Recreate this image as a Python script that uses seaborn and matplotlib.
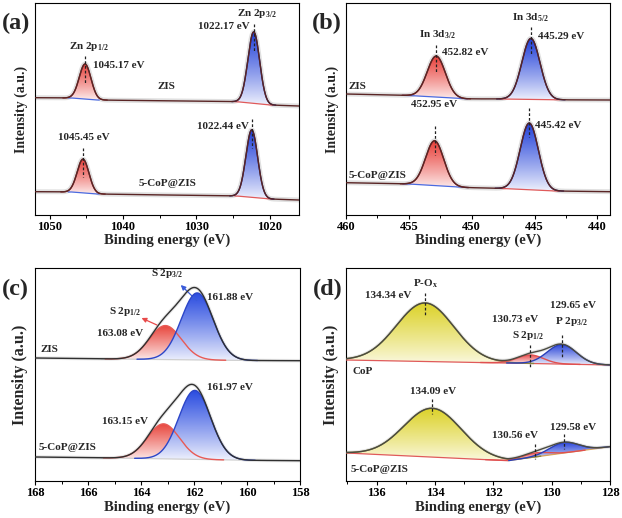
import numpy as np
import pandas as pd
import matplotlib
matplotlib.use("Agg")
import matplotlib.pyplot as plt
import seaborn as sns
from matplotlib.colors import LinearSegmentedColormap
from matplotlib.patches import Polygon
from matplotlib.ticker import MultipleLocator, FixedLocator

# ---------------- data ----------------
# Panel (a): Zn 2p
a_xlim = (1052, 1016)
a_ticks = [1050, 1040, 1030, 1020]
a_zis_bx = [1052, 1047, 1043.5, 1024.5, 1020, 1016]
a_zis_by = [117.3, 117.0, 115.0, 113.3, 110.0, 109.0]
a_zis_centers = [1045.17, 1022.17]
a_zis_heights = [35.0, 71.5]
a_cop_bx = [1052, 1047, 1043.5, 1024.5, 1020, 1016]
a_cop_by = [23.3, 23.0, 21.0, 19.0, 16.0, 15.0]
a_cop_centers = [1045.45, 1022.44]
a_cop_heights = [33.7, 67.5]
a_sigmas = [0.8, 0.8]

# Panel (b): In 3d
b_xlim = (460, 439)
b_ticks = [460, 455, 450, 445, 440]
b_zis_bx = [460, 455, 450.5, 447.5, 443.5, 439]
b_zis_by = [121.0, 119.5, 116.2, 116.0, 115.2, 115.0]
b_zis_centers = [452.82, 445.29]
b_zis_heights = [41.0, 61.0]
b_cop_bx = [460, 455, 450.5, 447.5, 443.5, 439]
b_cop_by = [32.3, 31.0, 27.5, 26.5, 24.0, 23.3]
b_cop_centers = [452.95, 445.42]
b_cop_heights = [44.8, 66.7]
b_sigmas = [0.72, 0.72]

# Panel (c): S 2p
c_xlim = (168, 158)
c_ticks = [168, 166, 164, 162, 160, 158]
c_zis_bx = [168, 165, 160, 158]
c_zis_by = [123.0, 122.0, 120.5, 120.3]
c_zis_centers = [163.08, 161.88]
c_zis_heights = [34.0, 67.0]
c_cop_bx = [168, 165, 160, 158]
c_cop_by = [24.0, 23.0, 20.7, 20.3]
c_cop_centers = [163.15, 161.97]
c_cop_heights = [35.0, 69.0]
c_sigmas = [0.6, 0.6]

# Panel (d): P 2p
d_xlim = (137.05, 128)
d_ticks = [136, 134, 132, 130, 128]
d_cop_bx = [137.05, 131.5, 128]
d_cop_by = [121.0, 118.0, 116.0]
d_cop_centers = [134.34, 130.73, 129.65]
d_cop_heights = [58.5, 8.5, 19.5]
d_zis_bx = [137.05, 131.5, 128]
d_zis_by = [28.0, 20.3, 34.3]
d_zis_centers = [134.09, 130.56, 129.58]
d_zis_heights = [48.8, 4.0, 10.5]
d_sigmas = [0.98, 0.45, 0.5]

# ---------------- style ----------------
sns.set_theme(style="ticks")
plt.rcParams["font.family"] = ["Liberation Serif", "DejaVu Serif"]
plt.rcParams["font.weight"] = "bold"
plt.rcParams["mathtext.fontset"] = "custom"
plt.rcParams["mathtext.rm"] = "Liberation Serif:bold"
plt.rcParams["mathtext.it"] = "Liberation Serif:bold"
plt.rcParams["mathtext.bf"] = "Liberation Serif:bold"
plt.rcParams["mathtext.default"] = "rm"

RED_F, RED_E, RED_L = "#e8403a", "#8c2b2b", "#fdeeee"
BLUE_F, BLUE_E, BLUE_L = "#1f3ed8", "#1b1f6e", "#f0f2fd"
ENV_AB = "#5a2525"


def gauss(x, c, h, s):
    return h * np.exp(-0.5 * ((x - c) / s) ** 2)


def draw_spectrum(ax, xlim, bx, by, centers, heights, sigmas, fills, edges,
                  env_color, base_segs, halo=(3.5, "#e0e0e0"), fill_low=None,
                  dash=None):
    xgrid = np.linspace(xlim[0], xlim[1], 900)
    base = np.interp(xgrid, bx[::-1], by[::-1])
    comps = [gauss(xgrid, c, h, s) for c, h, s in zip(centers, heights, sigmas)]
    env = base + np.sum(comps, axis=0)
    if halo is not None:
        ax.plot(xgrid, env, color=halo[1], lw=halo[0], zorder=1,
                solid_capstyle="round")
    tops = []
    for i, (comp, c, s, fc, ec) in enumerate(zip(comps, centers, sigmas, fills, edges)):
        m = np.abs(xgrid - c) < 3.8 * s
        xs, b = xgrid[m], base[m]
        t = b + comp[m]
        verts = np.column_stack([np.r_[xs, xs[::-1]], np.r_[t, b[::-1]]])
        patch = Polygon(verts, closed=True, fc="none", ec="none")
        ax.add_patch(patch)
        low = fill_low[i] if fill_low is not None else "white"
        cmap = LinearSegmentedColormap.from_list("g", [low, fc])
        grad = np.linspace(0, 1, 256).reshape(-1, 1) ** 0.9
        im = ax.imshow(grad, extent=[xs.min(), xs.max(), b.min(), t.max()],
                       origin="lower", aspect="auto", cmap=cmap, zorder=2,
                       interpolation="bilinear")
        im.set_clip_path(patch)
        sns.lineplot(x=xs, y=t, ax=ax, color=ec, lw=1.0, zorder=4,
                     sort=False, estimator=None)
        tops.append(np.interp(c, xgrid[::-1], (base + comp)[::-1]))
    for (x0, x1, col) in base_segs:
        m = (xgrid <= x0) & (xgrid >= x1)
        ax.plot(xgrid[m], base[m], color=col, lw=0.9, zorder=3)
    sns.lineplot(x=xgrid, y=env, ax=ax, color=env_color, lw=1.0, zorder=5,
                 sort=False, estimator=None)
    if dash is not None:
        up, down, which = dash
        for k in which:
            ax.plot([centers[k], centers[k]], [tops[k] + up, tops[k] - down],
                    ls=(0, (2.2, 1.6)), color="#222222", lw=0.9, zorder=6)
    return tops


def style_axes(ax, xlim, ylim, ticks, minor, ylabel_size, lab_y):
    ax.set_xlim(*xlim)
    ax.set_ylim(*ylim)
    ax.xaxis.set_major_locator(FixedLocator(ticks))
    ax.xaxis.set_minor_locator(MultipleLocator(minor))
    ax.set_yticks([])
    ax.set_xticklabels([str(t) for t in ticks], fontsize=9, fontweight="bold")
    ax.tick_params(axis="x", which="major", direction="out", length=2.6,
                   width=0.8, pad=2, colors="black")
    ax.tick_params(axis="x", which="minor", direction="out", length=1.8,
                   width=0.7, colors="black")
    for sp in ax.spines.values():
        sp.set_visible(True)
        sp.set_color("black")
        sp.set_linewidth(0.8)
    ax.set_xlabel("Binding energy (eV)", fontsize=10.5, fontweight="bold")
    ax.set_ylabel("Intensity (a.u.)", fontsize=ylabel_size, fontweight="bold")
    ax.xaxis.set_label_coords(0.5, lab_y)
    ax.yaxis.set_label_coords(-0.026, 0.5)
    ax.set_facecolor("white")


fig = plt.figure(figsize=(6.22, 5.18), dpi=100)
fig.patch.set_facecolor("white")
W, H = 622, 518
ax_a = fig.add_axes([35 / W, 1 - 215 / H, 264 / W, 212 / H])
ax_b = fig.add_axes([346 / W, 1 - 215 / H, 264 / W, 212 / H])
ax_c = fig.add_axes([35 / W, 1 - 481 / H, 265 / W, 213 / H])
ax_d = fig.add_axes([346 / W, 1 - 481 / H, 264 / W, 213 / H])

FS = 8

# ---------- (a) ----------
ax = ax_a
draw_spectrum(ax, a_xlim, a_zis_bx, a_zis_by, a_zis_centers, a_zis_heights, a_sigmas,
              [RED_F, BLUE_F], [RED_E, BLUE_E], ENV_AB,
              [(1047.5, 1043.2, "#4a6ae0"), (1024.8, 1019.6, "#e05a5a")],
              fill_low=[RED_L, BLUE_L], dash=(8, 20, [0, 1]))
draw_spectrum(ax, a_xlim, a_cop_bx, a_cop_by, a_cop_centers, a_cop_heights, a_sigmas,
              [RED_F, BLUE_F], [RED_E, BLUE_E], ENV_AB,
              [(1047.5, 1043.2, "#4a6ae0"), (1024.8, 1019.6, "#e05a5a")],
              fill_low=[RED_L, BLUE_L], dash=(11, 18, [0, 1]))
ax.text(1044.6, 168, "Zn 2p$_{1/2}$", fontsize=FS, ha="center", va="center")
ax.text(1044.1, 149, "1045.17 eV", fontsize=FS, ha="left", va="center")
ax.text(1021.7, 201, "Zn 2p$_{3/2}$", fontsize=FS, ha="center", va="center")
ax.text(1022.8, 188, "1022.17 eV", fontsize=FS, ha="right", va="center")
ax.text(1034.1, 128, "ZIS", fontsize=FS, ha="center", va="center")
ax.text(1045.3, 78, "1045.45 eV", fontsize=FS, ha="center", va="center")
ax.text(1022.9, 88, "1022.44 eV", fontsize=FS, ha="right", va="center")
ax.text(1033.9, 32, "5-CoP@ZIS", fontsize=FS, ha="center", va="center")
style_axes(ax, a_xlim, (0, 212), a_ticks, 5, 10, -0.085)

# ---------- (b) ----------
ax = ax_b
draw_spectrum(ax, b_xlim, b_zis_bx, b_zis_by, b_zis_centers, b_zis_heights, b_sigmas,
              [RED_F, BLUE_F], [RED_E, BLUE_E], ENV_AB,
              [(455.5, 450.3, "#4a6ae0"), (447.8, 443.0, "#e05a5a")],
              fill_low=[RED_L, BLUE_L], dash=(11, 16, [0, 1]))
draw_spectrum(ax, b_xlim, b_cop_bx, b_cop_by, b_cop_centers, b_cop_heights, b_sigmas,
              [RED_F, BLUE_F], [RED_E, BLUE_E], ENV_AB,
              [(455.5, 450.3, "#4a6ae0"), (447.8, 443.0, "#e05a5a")],
              fill_low=[RED_L, BLUE_L], dash=(15, 14, [0, 1]))
ax.text(452.7, 180, "In 3d$_{3/2}$", fontsize=FS, ha="center", va="center")
ax.text(452.4, 162, "452.82 eV", fontsize=FS, ha="left", va="center")
ax.text(445.3, 197, "In 3d$_{5/2}$", fontsize=FS, ha="center", va="center")
ax.text(444.75, 178, "445.29 eV", fontsize=FS, ha="left", va="center")
ax.text(459.8, 128, "ZIS", fontsize=FS, ha="left", va="center")
ax.text(452.97, 110, "452.95 eV", fontsize=FS, ha="center", va="center")
ax.text(445.0, 89, "445.42 eV", fontsize=FS, ha="left", va="center")
ax.text(459.8, 40, "5-CoP@ZIS", fontsize=FS, ha="left", va="center")
style_axes(ax, b_xlim, (0, 212), b_ticks, 2.5, 10, -0.085)

# ---------- (c) ----------
ax = ax_c
C_RED_F, C_RED_E = "#e8453c", "#e85a55"
C_BLUE_F, C_BLUE_E = "#2a4ce0", "#2c46c8"
draw_spectrum(ax, c_xlim, c_zis_bx, c_zis_by, c_zis_centers, c_zis_heights, c_sigmas,
              [C_RED_F, C_BLUE_F], [C_RED_E, C_BLUE_E], "#303030",
              [(165.5, 159.5, "#cfcfcf")], halo=(2.5, "#e6e6e6"),
              fill_low=[RED_L, BLUE_L])
draw_spectrum(ax, c_xlim, c_cop_bx, c_cop_by, c_cop_centers, c_cop_heights, c_sigmas,
              [C_RED_F, C_BLUE_F], [C_RED_E, C_BLUE_E], "#303030",
              [(165.5, 159.5, "#cfcfcf")], halo=(2.5, "#e6e6e6"),
              fill_low=[RED_L, BLUE_L])
ax.text(163.0, 207, "S 2p$_{3/2}$", fontsize=FS, ha="center", va="center")
ax.annotate("", xy=(162.5, 196), xytext=(161.9, 180.5),
            arrowprops=dict(arrowstyle="-|>", color="#3a5bd9", lw=0.9,
                            mutation_scale=7, shrinkA=0, shrinkB=0))
ax.text(164.6, 169, "S 2p$_{1/2}$", fontsize=FS, ha="center", va="center")
ax.annotate("", xy=(163.98, 163), xytext=(163.4, 156),
            arrowprops=dict(arrowstyle="-|>", color="#e84a4a", lw=0.9,
                            mutation_scale=7, shrinkA=0, shrinkB=0))
ax.text(161.5, 183, "161.88 eV", fontsize=FS, ha="left", va="center")
ax.text(164.8, 147, "163.08 eV", fontsize=FS, ha="center", va="center")
ax.text(167.8, 131, "ZIS", fontsize=FS, ha="left", va="center")
ax.text(161.5, 94, "161.97 eV", fontsize=FS, ha="left", va="center")
ax.text(164.6, 59, "163.15 eV", fontsize=FS, ha="center", va="center")
ax.text(167.85, 33, "5-CoP@ZIS", fontsize=FS, ha="left", va="center")
style_axes(ax, c_xlim, (0, 213), c_ticks, 1, 11.5, -0.09)

# ---------- (d) ----------
ax = ax_d
Y_F, Y_E, Y_LOW = "#dcd22a", "#8a8640", "#fbf9e2"
draw_spectrum(ax, d_xlim, d_cop_bx, d_cop_by, d_cop_centers, d_cop_heights, d_sigmas,
              [Y_F, "#e84545", "#2a45d8"], [Y_E, "#e05050", "#2a3fb8"], "#4a4a40",
              [(137.05, 128, "#e05a5a")], halo=(2.5, "#e4e4e4"),
              fill_low=[Y_LOW, RED_L, BLUE_L], dash=(10, 12, [0, 1, 2]))
draw_spectrum(ax, d_xlim, d_zis_bx, d_zis_by, d_zis_centers, d_zis_heights, d_sigmas,
              [Y_F, "#e84545", "#2a45d8"], [Y_E, "#e05050", "#2a3fb8"], "#4a4a40",
              [(137.05, 131.5, "#e05a5a"), (131.5, 128, "#d9a45a")],
              halo=(2.5, "#e4e4e4"),
              fill_low=[Y_LOW, RED_L, BLUE_L], dash=(9, 6, [0, 1, 2]))
ax.text(134.34, 197, "P-O$_{x}$", fontsize=FS, ha="center", va="center")
ax.text(135.62, 185, "134.34 eV", fontsize=FS, ha="center", va="center")
ax.text(131.26, 161, "130.73 eV", fontsize=FS, ha="center", va="center")
ax.text(130.82, 146, "S 2p$_{1/2}$", fontsize=FS, ha="center", va="center")
ax.text(129.28, 175, "129.65 eV", fontsize=FS, ha="center", va="center")
ax.text(129.31, 159, "P 2p$_{3/2}$", fontsize=FS, ha="center", va="center")
ax.text(136.82, 109, "CoP", fontsize=FS, ha="left", va="center")
ax.text(134.08, 89, "134.09 eV", fontsize=FS, ha="center", va="center")
ax.text(131.26, 46, "130.56 eV", fontsize=FS, ha="center", va="center")
ax.text(129.28, 53, "129.58 eV", fontsize=FS, ha="center", va="center")
ax.text(136.9, 11, "5-CoP@ZIS", fontsize=FS, ha="left", va="center")
style_axes(ax, d_xlim, (0, 213), d_ticks, 1, 11.5, -0.09)

# panel letters
for lab, px, py in [("(a)", 2, 23), ("(b)", 312, 23), ("(c)", 2, 289), ("(d)", 313, 289)]:
    fig.text(px / W, 1 - py / H, lab, fontsize=17.5, fontweight="bold",
             ha="left", va="center")

fig.savefig("out.png", dpi=100, facecolor="white")
